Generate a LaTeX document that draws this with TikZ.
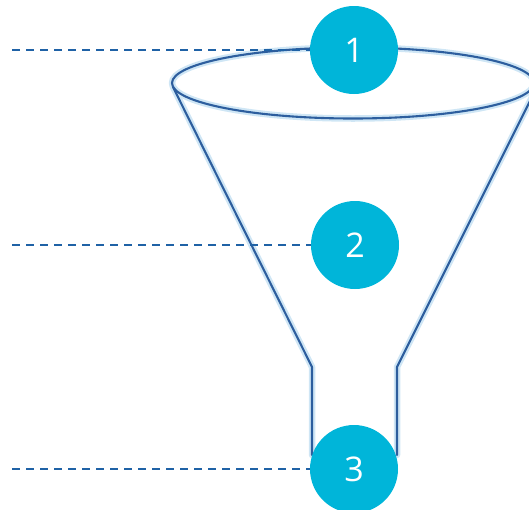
\documentclass[tikz,border=0pt]{standalone}
\usepackage{fontspec}
\newfontfamily\numfont{Open Sans}
\definecolor{funneldark}{HTML}{2D5E9E}
\definecolor{funnelglow}{HTML}{CFE6F5}
\definecolor{dashblue}{HTML}{1F62A6}
\definecolor{circblue}{HTML}{00B5D9}
\tikzset{
  glowline/.style={draw=funnelglow, line width=6.5pt, line join=round, line cap=round},
  darkline/.style={draw=funneldark, line width=2.1pt, line join=round, line cap=round},
  dashline/.style={draw=dashblue, line width=1.6pt, dash pattern=on 8pt off 6pt},
  numcirc/.style={circle, fill=circblue, minimum size=88pt, inner sep=0pt,
    text=white, font=\numfont\fontsize{34pt}{36pt}\selectfont}
}
\begin{document}
\begin{tikzpicture}[x=1pt,y=-1pt]
\useasboundingbox (0,0) rectangle (529,509);
\clip (0,0) rectangle (529,509);
% funnel geometry
\coordinate (rim) at (353,83);
\coordinate (lt) at (173,87);
\coordinate (lk) at (312,367);
\coordinate (lb) at (312,455);
\coordinate (rt) at (537,87);
\coordinate (rk) at (397,367);
\coordinate (rb) at (397,455);
% glow
\draw[glowline] (rim) ellipse [x radius=181pt, y radius=35.5pt];
\draw[glowline] (lt) -- (lk) -- (lb);
\draw[glowline] (rt) -- (rk) -- (rb);
% dark lines
\draw[darkline] (rim) ellipse [x radius=181pt, y radius=35.5pt];
\draw[darkline] (lt) -- (lk) -- (lb);
\draw[darkline] (rt) -- (rk) -- (rb);
% circles
\node[numcirc] (c1) at (354,50) {1};
\node[numcirc] (c2) at (355,245) {2};
\node[numcirc] (c3) at (354,469) {3};
% dashed leaders
\coordinate (d1) at (12,50);
\coordinate (d2) at (12,245);
\coordinate (d3) at (12,469);
\draw[dashline] (d1) -- (c1.west);
\draw[dashline] (d2) -- (c2.west);
\draw[dashline] (d3) -- (c3.west);
\end{tikzpicture}
\end{document}
